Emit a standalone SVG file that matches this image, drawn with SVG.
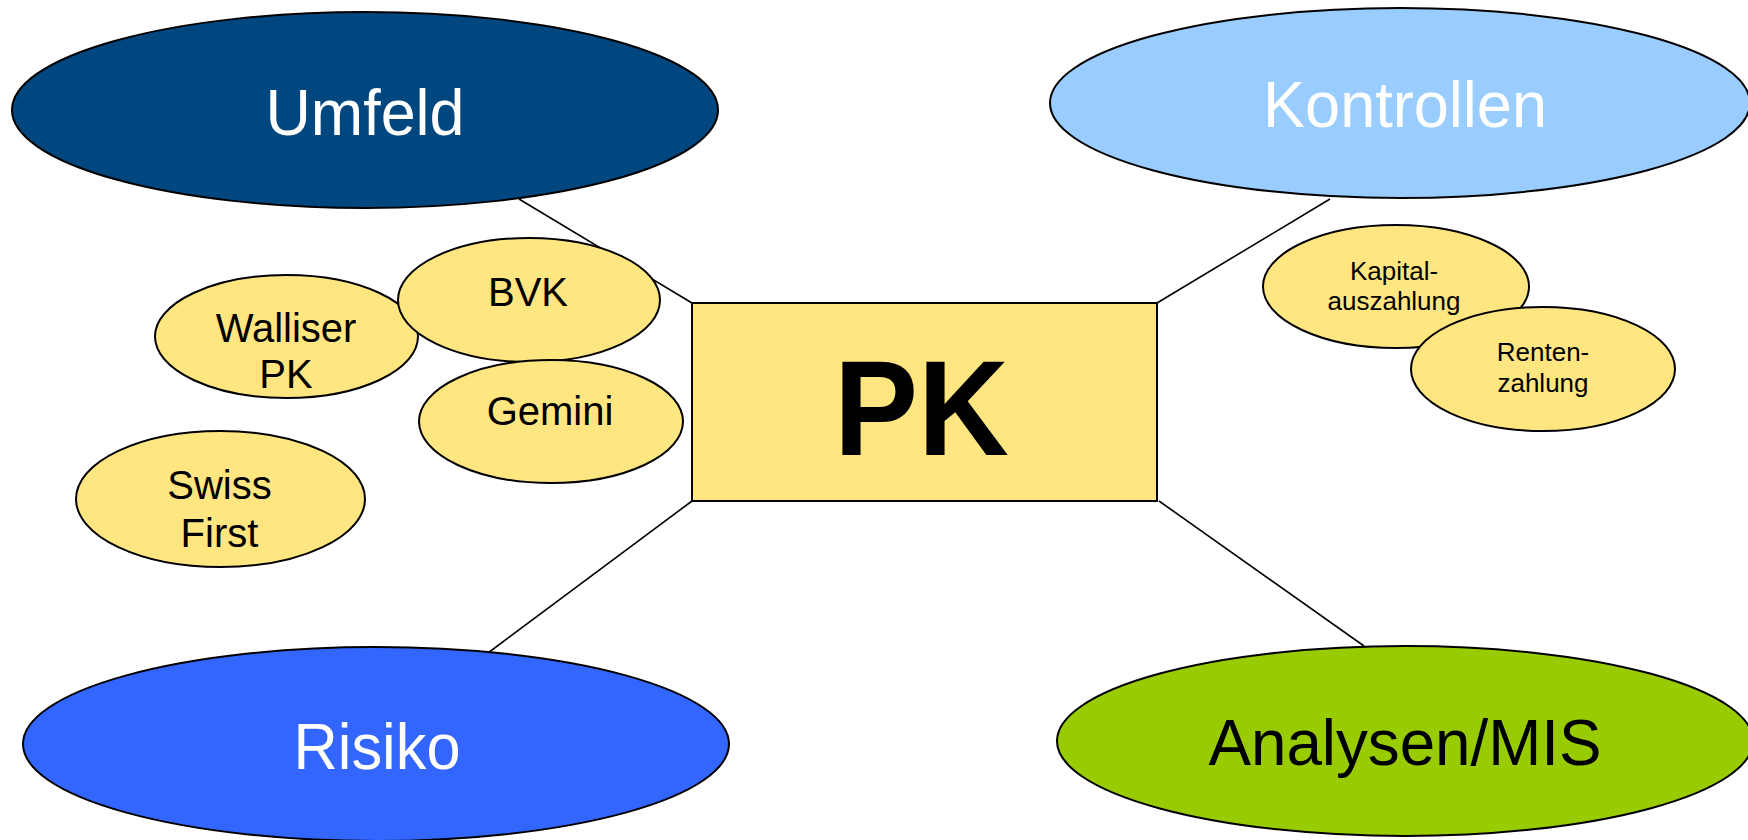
<svg xmlns="http://www.w3.org/2000/svg" width="1748" height="840" viewBox="0 0 1748 840">
<style>
.big{font-family:"Liberation Sans",Arial,sans-serif;font-size:65px;text-anchor:middle}
.sm{font-family:"Liberation Sans",Arial,sans-serif;font-size:40px;text-anchor:middle;fill:#000}
.xs{font-family:"Liberation Sans",Arial,sans-serif;font-size:26px;text-anchor:middle;fill:#000}
.o{stroke:#000;stroke-width:2}
.y{fill:#FFE680}
.c{stroke:#000;stroke-width:1.6;fill:none}
</style>
<rect width="1748" height="840" fill="#fff"/>
<g id="connectors">
<line class="c" x1="519" y1="199" x2="692" y2="303"/>
<line class="c" x1="1330" y1="199" x2="1157" y2="303"/>
<line class="c" x1="488" y1="653" x2="692" y2="501"/>
<line class="c" x1="1364" y1="646" x2="1159" y2="501"/>
</g>
<g id="umfeld">
<ellipse class="o" cx="365" cy="110" rx="353" ry="98" fill="#004780"/>
<text class="big" x="365" y="135" fill="#fff" textLength="199" lengthAdjust="spacingAndGlyphs">Umfeld</text>
</g>
<g id="kontrollen">
<ellipse class="o" cx="1400" cy="103" rx="350" ry="95" fill="#99CCFF"/>
<text class="big" x="1405" y="127" fill="#fff" textLength="284" lengthAdjust="spacingAndGlyphs">Kontrollen</text>
</g>
<g id="risiko">
<ellipse class="o" cx="376" cy="744" rx="353" ry="97" fill="#3366FF"/>
<text class="big" x="377" y="769" fill="#fff" textLength="167" lengthAdjust="spacingAndGlyphs">Risiko</text>
</g>
<g id="analysen">
<ellipse class="o" cx="1405" cy="741" rx="348" ry="95" fill="#99CC00"/>
<text class="big" x="1405" y="765" fill="#000" textLength="393" lengthAdjust="spacingAndGlyphs">Analysen/MIS</text>
</g>
<g id="pk">
<rect class="o y" x="692" y="303" width="465" height="198"/>
<text x="921.5" y="455" font-family="Liberation Sans,Arial,sans-serif" font-size="135" font-weight="bold" text-anchor="middle" textLength="175" lengthAdjust="spacingAndGlyphs">PK</text>
</g>
<g id="walliser">
<ellipse class="o y" cx="286.5" cy="336.5" rx="131.5" ry="61.5"/>
<text class="sm" x="286" y="342">Walliser</text>
<text class="sm" x="286" y="388">PK</text>
</g>
<g id="bvk">
<ellipse class="o y" cx="529" cy="300" rx="131" ry="62"/>
<text class="sm" x="528" y="306">BVK</text>
</g>
<g id="gemini">
<ellipse class="o y" cx="551" cy="421.5" rx="132" ry="61.5"/>
<text class="sm" x="550" y="425">Gemini</text>
</g>
<g id="swiss">
<ellipse class="o y" cx="220.5" cy="499" rx="144.5" ry="68"/>
<text class="sm" x="219.5" y="499">Swiss</text>
<text class="sm" x="219.5" y="547">First</text>
</g>
<g id="kapital">
<ellipse class="o y" cx="1396" cy="286.5" rx="133" ry="61.5"/>
<text class="xs" x="1394" y="280">Kapital-</text>
<text class="xs" x="1394" y="310">auszahlung</text>
</g>
<g id="renten">
<ellipse class="o y" cx="1543" cy="369" rx="132" ry="62"/>
<text class="xs" x="1543" y="361">Renten-</text>
<text class="xs" x="1543" y="392">zahlung</text>
</g>
</svg>
